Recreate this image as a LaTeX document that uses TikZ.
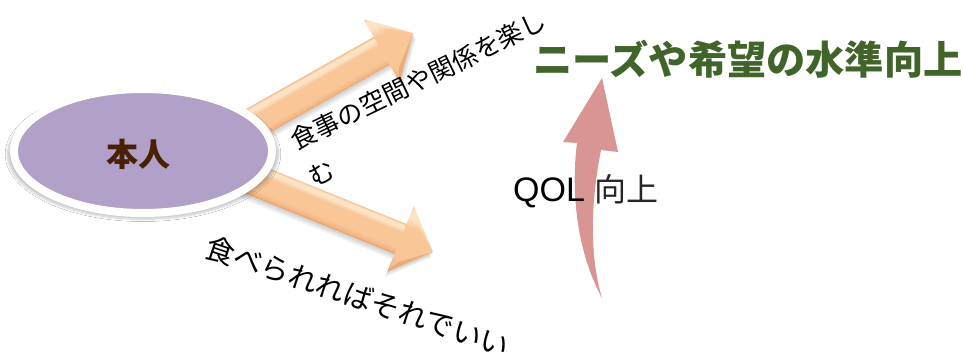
\documentclass[tikz,border=0pt]{standalone}
\usepackage{fontspec}
\setmainfont{Liberation Sans}
\newfontfamily\jp{Noto Sans CJK JP}
\usetikzlibrary{shapes.geometric,shadows.blur}
\definecolor{purplefill}{RGB}{177,160,199}
\definecolor{selfbrown}{RGB}{74,32,4}
\definecolor{titlegreen}{RGB}{64,100,42}
\definecolor{qolred}{RGB}{217,149,148}
\definecolor{pEdge}{RGB}{230,152,94}
\definecolor{pBody2}{RGB}{243,180,126}
\definecolor{pBody}{RGB}{249,198,152}
\definecolor{pHigh}{RGB}{253,227,198}
\definecolor{pMid}{RGB}{245,192,142}
\pgfdeclareverticalshading{peachbevel}{100bp}{color(0bp)=(pEdge); color(25bp)=(pEdge);
  color(28bp)=(pBody2); color(36bp)=(pBody); color(60bp)=(pBody); color(67bp)=(pHigh);
  color(72bp)=(pHigh); color(75bp)=(pMid); color(100bp)=(pMid)}
\begin{document}
\begin{tikzpicture}[x=1pt,y=-1pt,
  bevel/.style={shading=peachbevel},
  arrowshadow/.style={fill=black, opacity=0.06},
  jptext/.style={inner sep=0pt, text=black}]
\useasboundingbox[fill=white] (0,0) rectangle (963,354);

% upper block arrow
\coordinate (upTip) at (413,33);
\begin{scope}[transform canvas={shift={(413,33)},rotate=29.5}]
  \foreach \d in {2,4,6}
    \fill[arrowshadow] (-195,-16+\d) -- (-36,-16+\d) -- (-36,-36+\d) -- (0,\d) -- (-36,36+\d) -- (-36,16+\d) -- (-195,16+\d) -- cycle;
  \shade[bevel] (-195,-16) rectangle (-35,16);
  \shade[bevel] (-36,-36) -- (0,0) -- (-36,36) -- cycle;
  \fill[pEdge, opacity=0.55] (-36,36) -- (0,0) -- (-29,23) -- cycle;
  \fill[pHigh, opacity=0.6] (-36,-36) -- (0,0) -- (-30,-25) -- cycle;
\end{scope}

% lower block arrow
\coordinate (lowTip) at (433,252);
\begin{scope}[transform canvas={shift={(433,252)},rotate=-22}]
  \foreach \d in {2,4,6}
    \fill[arrowshadow] (-200,-16+\d) -- (-35,-16+\d) -- (-35,-35+\d) -- (0,\d) -- (-35,35+\d) -- (-35,16+\d) -- (-200,16+\d) -- cycle;
  \shade[bevel] (-200,-16) rectangle (-34,16);
  \shade[bevel] (-35,-35) -- (0,0) -- (-35,35) -- cycle;
  \fill[pEdge, opacity=0.55] (-35,35) -- (0,0) -- (-28,22) -- cycle;
  \fill[pHigh, opacity=0.6] (-35,-35) -- (0,0) -- (-29,-24) -- cycle;
\end{scope}

% self ellipse
\node[ellipse, draw=white, line width=8pt, fill=purplefill,
      minimum width=258pt, minimum height=124pt, inner sep=0pt,
      blur shadow={shadow xshift=0pt, shadow yshift=-3pt, shadow scale=1.05,
                   shadow opacity=22, shadow blur steps=10}]
      (self) at (143,151) {};
\node[font=\jp\bfseries\fontsize{32}{34}\selectfont, text=selfbrown, inner sep=0pt]
      (selflabel) at (138,154) {本人};

% curved red arrow
\fill[qolred] (602,298) .. controls (576,250) and (571,190) .. (577,143)
  -- (563,142) -- (602,78) -- (618,152) -- (601,150)
  .. controls (591,200) and (589,255) .. (602,298) -- cycle;

% texts
\node[jptext, rotate=26, anchor=north west, align=left,
      font=\jp\fontsize{25.5}{41}\selectfont] (enjoy) at (287,131)
      {食事の空間や関係を楽し\\む};
\node[jptext, rotate=-18.5, anchor=west, font=\jp\fontsize{29}{29}\selectfont]
      (eat) at (207,246) {食べられればそれでいい};
\node[anchor=west, inner sep=0pt, font=\jp\bfseries\fontsize{39.2}{41}\selectfont, text=titlegreen]
      (title) at (533,59) {ニーズや希望の水準向上};
\node[anchor=base west, inner sep=0pt, font=\fontsize{34}{36}\selectfont]
      (qol) at (513,201) {QOL {\jp\fontsize{32}{34}\selectfont\color{black!85}向上}};
\end{tikzpicture}
\end{document}
